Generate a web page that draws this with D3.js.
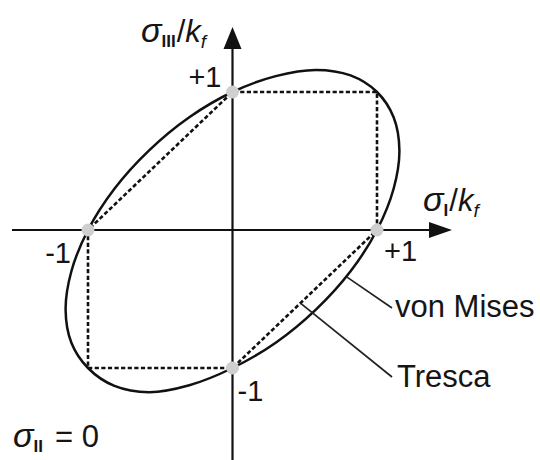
<!DOCTYPE html>
<html>
<head>
<meta charset="utf-8">
<script src="https://cdn.jsdelivr.net/npm/d3@7"></script>
<style>
  html, body { margin: 0; padding: 0; background: #fff; }
  svg { display: block; }
  text { font-family: "Liberation Sans", Arial, Helvetica, sans-serif; fill: #151515; }
</style>
</head>
<body>
<script>
// ---- data (normalised stresses sigma/kf, sigma_II = 0) ----
// von Mises yield ellipse (sigma_I, sigma_III)
const vonMisesS1  = [1.000, 1.115, 1.155, 1.115, 1.000, 0.817, 0.577, 0.299, 0.000, -0.299, -0.577, -0.817,
                     -1.000, -1.115, -1.155, -1.115, -1.000, -0.817, -0.577, -0.299, 0.000, 0.299, 0.577, 0.817];
const vonMisesS3  = [1.000, 0.817, 0.577, 0.299, 0.000, -0.299, -0.577, -0.817, -1.000, -1.125, -1.175, -1.130,
                     -1.000, -0.817, -0.577, -0.299, 0.000, 0.299, 0.577, 0.817, 1.000, 1.115, 1.160, 1.120];
// Tresca hexagon vertices
const trescaS1 = [1, 1, 0, -1, -1, 0, 1];
const trescaS3 = [0, 1, 1, 0, -1, -1, 0];
// marked points on the axes
const pointS1 = [0, 1, 0, -1];
const pointS3 = [1, 0, -1, 0];
// tick labels at those points
const pointLabels = ["+1", "+1", "-1", "-1"];
// curve names
const curveNames = ["von Mises", "Tresca"];

// ---- layout ----
const W = 540, H = 460;
const svg = d3.select("body").append("svg").attr("width", W).attr("height", H);
svg.append("rect").attr("width", W).attr("height", H).attr("fill", "#fff");

const x = d3.scaleLinear().domain([-1, 1]).range([88, 377]);
const y = d3.scaleLinear().domain([-1, 1]).range([368, 92]);
const x0 = x(0), y0 = y(0);

// von Mises ellipse
const vm = vonMisesS1.map((s, i) => [s, vonMisesS3[i]]);
const curve = d3.line().x(d => x(d[0])).y(d => y(d[1])).curve(d3.curveCatmullRomClosed.alpha(0.5));
svg.append("path").attr("d", curve(vm))
  .attr("fill", "none").attr("stroke", "#111").attr("stroke-width", 2.5);

// Tresca hexagon (dashed)
const tr = trescaS1.map((s, i) => [s, trescaS3[i]]);
const poly = d3.line().x(d => x(d[0])).y(d => y(d[1]));
svg.append("path").attr("d", poly(tr))
  .attr("fill", "none").attr("stroke", "#111").attr("stroke-width", 2.6)
  .attr("stroke-dasharray", "4.2,2.4");

// axes
const axisColor = "#111";
svg.append("line").attr("x1", 12).attr("x2", 432).attr("y1", y0).attr("y2", y0)
  .attr("stroke", axisColor).attr("stroke-width", 2.2);
svg.append("path").attr("d", `M452,${y0} L429,${y0 - 8} L429,${y0 + 8} Z`).attr("fill", axisColor);
svg.append("line").attr("x1", x0).attr("x2", x0).attr("y1", H).attr("y2", 46)
  .attr("stroke", axisColor).attr("stroke-width", 2.2);
svg.append("path").attr("d", `M${x0},27 L${x0 - 9},49 L${x0 + 9},49 Z`).attr("fill", axisColor);

// grey points
svg.selectAll("circle.pt").data(pointS1).enter().append("circle")
  .attr("class", "pt")
  .attr("cx", d => x(d)).attr("cy", (d, i) => y(pointS3[i]))
  .attr("r", 6.5).attr("fill", "#cfcfcf");

// tick labels
const fs = 29;
const labelPos = [
  {dx: -11, dy: -5, anchor: "end"},   // +1 on sigma_III
  {dx: 7, dy: 31, anchor: "start"},   // +1 on sigma_I
  {dx: 5, dy: 33, anchor: "start"},   // -1 on sigma_III
  {dx: -17, dy: 33, anchor: "end"}    // -1 on sigma_I
];
pointLabels.forEach((t, i) => {
  svg.append("text").attr("x", x(pointS1[i]) + labelPos[i].dx).attr("y", y(pointS3[i]) + labelPos[i].dy)
    .attr("text-anchor", labelPos[i].anchor).attr("font-size", fs).text(t);
});

// axis titles
function sigmaLabel(xp, yp, sub, withK) {
  const t = svg.append("text").attr("x", xp).attr("y", yp).attr("font-size", 31);
  t.append("tspan").attr("font-style", "italic").attr("font-size", 34).text("σ");
  t.append("tspan").attr("font-size", 17).attr("font-weight", "bold").attr("dy", 5).attr("dx", 0).text(sub);
  if (withK) {
    t.append("tspan").attr("dy", -5).attr("dx", 1).text("/");
    t.append("tspan").attr("font-style", "italic").text("k");
    t.append("tspan").attr("font-style", "italic").attr("font-size", 19).attr("dy", 6).text("f");
  }
  return t;
}
sigmaLabel(141, 42, "III", true);
sigmaLabel(423, 211, "I", true);
const s2 = sigmaLabel(13, 447, "II", false);
s2.append("tspan").attr("dy", -5).attr("dx", 12).text("= 0");

// curve annotations
const vmAnchor = [0.79, -0.34];
const trAnchor = [0.47, -0.53];
svg.append("line").attr("x1", x(vmAnchor[0])).attr("y1", y(vmAnchor[1])).attr("x2", 392).attr("y2", 308)
  .attr("stroke", "#222").attr("stroke-width", 1.7);
svg.append("line").attr("x1", x(trAnchor[0])).attr("y1", y(trAnchor[1])).attr("x2", 392).attr("y2", 377)
  .attr("stroke", "#222").attr("stroke-width", 1.7);
svg.append("text").attr("x", 395).attr("y", 317).attr("font-size", 31).text(curveNames[0]);
svg.append("text").attr("x", 397).attr("y", 387).attr("font-size", 31).text(curveNames[1]);
</script>
</body>
</html>
